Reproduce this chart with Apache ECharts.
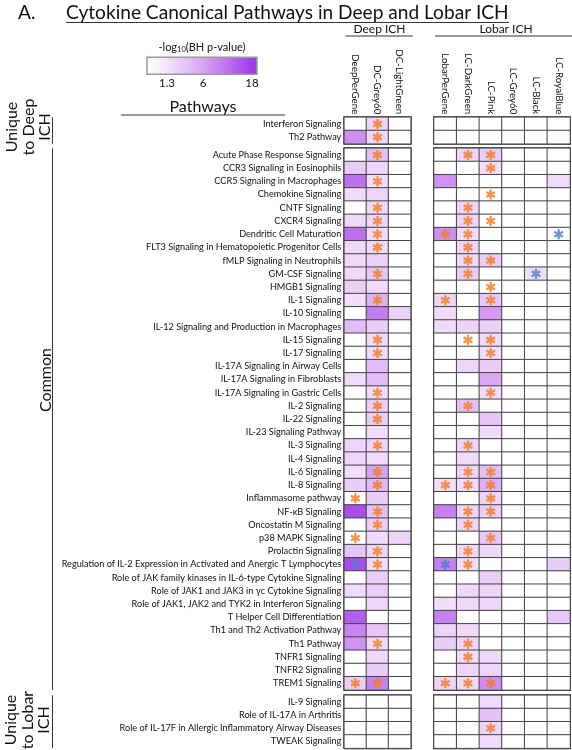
<!DOCTYPE html>
<html><head><meta charset="utf-8">
<script src="https://cdn.jsdelivr.net/npm/echarts@6/dist/echarts.min.js"></script>
<style>html,body{margin:0;padding:0;background:#fff}#c{width:572px;height:750px}</style>
</head><body><div id="c"></div>
<script>
// ---------------- DATA ----------------
const deepCols = ['DeepPerGene', 'DC-Grey60', 'DC-LightGreen'];
const lobarCols = ['LobarPerGene', 'LC-DarkGreen', 'LC-Pink', 'LC-Grey60', 'LC-Black', 'LC-RoyalBlue'];
const legendTicks = ['1.3', '6', '18'];

const uniqueDeepRows = ['Interferon Signaling', 'Th2 Pathway'];
const uniqueDeepDeepVals = [[0, 2.5, 0], [8.5, 2.2, 0]];
const uniqueDeepDeepStars = ['.o.', '.o.'];
const uniqueDeepLobarVals = [[0, 0, 0, 0, 0, 0], [0, 0, 0, 0, 0, 0]];
const uniqueDeepLobarStars = ['......', '......'];

const commonRows = [
  'Acute Phase Response Signaling', 'CCR3 Signaling in Eosinophils', 'CCR5 Signaling in Macrophages',
  'Chemokine Signaling', 'CNTF Signaling', 'CXCR4 Signaling', 'Dendritic Cell Maturation',
  'FLT3 Signaling in Hematopoietic Progenitor Cells', 'fMLP Signaling in Neutrophils', 'GM-CSF Signaling',
  'HMGB1 Signaling', 'IL-1 Signaling', 'IL-10 Signaling', 'IL-12 Signaling and Production in Macrophages',
  'IL-15 Signaling', 'IL-17 Signaling', 'IL-17A Signaling in Airway Cells', 'IL-17A Signaling in Fibroblasts',
  'IL-17A Signaling in Gastric Cells', 'IL-2 Signaling', 'IL-22 Signaling', 'IL-23 Signaling Pathway',
  'IL-3 Signaling', 'IL-4 Signaling', 'IL-6 Signaling', 'IL-8 Signaling', 'Inflammasome pathway',
  'NF-κB Signaling', 'Oncostatin M Signaling', 'p38 MAPK Signaling', 'Prolactin Signaling',
  'Regulation of IL-2 Expression in Activated and Anergic T Lymphocytes',
  'Role of JAK family kinases in IL-6-type Cytokine Signaling',
  'Role of JAK1 and JAK3 in γc Cytokine Signaling',
  'Role of JAK1, JAK2 and TYK2 in Interferon Signaling',
  'T Helper Cell Differentiation', 'Th1 and Th2 Activation Pathway', 'Th1 Pathway',
  'TNFR1 Signaling', 'TNFR2 Signaling', 'TREM1 Signaling'
];
const commonDeepVals = [
  [0, 4, 0], [3.2, 2.5, 0], [12, 2, 0], [2, 2.5, 0], [0, 2.2, 0], [2.2, 2.5, 0], [12, 2, 0],
  [2.2, 2.2, 0], [2.2, 2.8, 0], [2.2, 3.5, 0], [3, 2, 0], [1.8, 5, 0], [0, 10.5, 2.8], [4.2, 3, 0],
  [0, 2, 0], [0, 2, 0], [0, 4.2, 0], [2, 4.2, 0], [0, 2, 0], [0, 3, 0], [0, 3, 0], [0, 2, 0],
  [2.5, 2.5, 0], [2.5, 2, 0], [1.8, 6, 0], [3, 4.5, 0], [0, 3, 0], [16, 4, 0], [0, 3, 0],
  [0, 2, 2.5], [3.7, 2.5, 0], [16, 2, 0], [0, 3, 0], [2, 3, 0], [0, 2.5, 0], [14, 0, 0],
  [9.5, 3.5, 0], [8, 2.2, 0], [0, 2.2, 0], [0, 3, 0], [3, 10, 0]
];
const commonDeepStars = [
  '.o.', '...', '.o.', '...', '.o.', '.o.', '.o.', '.o.', '...', '.o.', '...', '.o.', '...', '...',
  '.o.', '.o.', '...', '...', '.o.', '.o.', '.o.', '...', '.o.', '...', '.o.', '.o.', 'o..', '.o.',
  '.o.', 'o..', '.o.', 'bo.', '...', '...', '...', '...', '...', '.o.', '...', '...', 'oo.'
];
const commonLobarVals = [
  [0, 2.5, 3, 0, 0, 0], [0, 0, 1.8, 0, 0, 0], [8, 0, 0, 0, 0, 2], [0, 0, 0, 0, 0, 0],
  [0, 2.5, 0, 0, 0, 0], [0, 2.5, 0, 0, 0, 0], [8.5, 2, 0, 0, 0, 0], [0, 2.5, 0, 0, 0, 0],
  [0, 2.2, 3, 0, 0, 0], [0, 3, 0, 0, 1.8, 0], [0, 0, 0, 0, 0, 0], [2.5, 0, 3.5, 0, 0, 0],
  [2, 0, 7, 0, 0, 0], [2, 2.5, 2.8, 0, 0, 0], [0, 0, 2, 0, 0, 0], [0, 0, 1.8, 0, 0, 0],
  [0, 2.5, 3, 0, 0, 0], [0, 0, 5.5, 0, 0, 0], [0, 0, 2, 0, 0, 0], [0, 4, 0, 0, 0, 0],
  [0, 0, 3.5, 0, 0, 0], [0, 0, 2, 0, 0, 0], [0, 2.5, 0, 0, 0, 0], [0, 2, 0, 0, 0, 0],
  [0, 2.5, 4, 0, 0, 0], [1.8, 2, 5, 0, 0, 0], [0, 0, 2.5, 0, 0, 0], [10, 2.5, 3, 0, 0, 0],
  [0, 2.5, 0, 0, 0, 0], [0, 0, 3.5, 0, 0, 0], [0, 2.2, 2.2, 0, 0, 0], [10, 2, 0, 0, 0, 3],
  [0, 0, 3, 0, 0, 0], [0, 2.2, 2.5, 0, 0, 0], [1.8, 2.2, 2.5, 0, 0, 0], [10, 0, 0, 0, 0, 3.5],
  [2.5, 2.2, 0, 0, 0, 0], [3, 2.5, 0, 0, 0, 0], [0, 2, 2.2, 0, 0, 0], [0, 2.5, 2.5, 0, 0, 0],
  [2.5, 2.2, 8.5, 0, 0, 0]
];
const commonLobarStars = [
  '.oo...', '..o...', '......', '..o...', '.o....', '.oo...', 'oo...b', '.o....', '.oo...',
  '.o..b.', '..o...', 'o.o...', '......', '......', '.oo...', '..o...', '......', '......',
  '..o...', '.o....', '......', '......', '.o....', '......', '.oo...', 'ooo...', '..o...',
  '.oo...', '.o....', '..o...', '.o....', 'bo....', '......', '......', '......', '......',
  '......', '.o....', '.o....', '......', 'ooo...'
];

const uniqueLobarRows = ['IL-9 Signaling', 'Role of IL-17A in Arthritis',
  'Role of IL-17F in Allergic Inflammatory Airway Diseases', 'TWEAK Signaling'];
const uniqueLobarDeepVals = [[0, 0, 0], [0, 0, 0], [0, 0, 0], [0, 0, 0]];
const uniqueLobarDeepStars = ['...', '...', '...', '...'];
const uniqueLobarLobarVals = [[0, 0, 2, 0, 0, 0], [0, 0, 4, 0, 0, 0], [0, 0, 2.5, 0, 0, 0], [0, 0, 2, 0, 0, 0]];
const uniqueLobarLobarStars = ['......', '......', '..o...', '......'];

// ---------------- STYLE / LAYOUT ----------------
const FONT = 'Lato, "Open Sans", sans-serif';
const TXT = '#111111';
const ORANGE = '#f47a1f', BLUE = '#4a7ccc';
const ROW_H = 13.21;
const DEEP_L = 344.3, DEEP_W = 66.4, LOB_L = 434, LOB_W = 136;
const sectionTops = [117.3, 148.3, 695.3];

const meas = document.createElement('canvas').getContext('2d');
function fit(text, target, weight) {
  meas.font = (weight || 'normal') + ' 20px ' + FONT;
  return 20 * target / meas.measureText(text).width;
}
const rowFont = Math.min(10.5, fit('Regulation of IL-2 Expression in Activated and Anergic T Lymphocytes', 280));
const colFont = Math.min(12, fit('DC-LightGreen', 65));
const titleFont = fit('Cytokine Canonical Pathways in Deep and Lobar ICH', 443);

// colour scale (non-linear legend: 1.3 / 6 / 18); below 1.3 = white (not significant)
const anchors = [[1.3, [244, 230, 251]], [6, [215, 164, 243]], [18, [162, 59, 232]]];
function colAt(v) {
  if (v < 1.3) return 'rgb(255,255,255)';
  let a = anchors[0], b = anchors[1];
  if (v > anchors[1][0]) { a = anchors[1]; b = anchors[2]; }
  const t = Math.max(0, Math.min(1, (v - a[0]) / (b[0] - a[0])));
  const c = a[1].map((x, i) => Math.round(x + (b[1][i] - x) * t));
  return 'rgb(' + c.join(',') + ')';
}
const stops = [];
for (let i = 0; i <= 180; i++) stops.push(colAt(i / 10));

const STAR = 'path://M-0.24,-1L0.24,-1L0.24,1L-0.24,1ZM0.746,-0.708L0.986,-0.292L-0.746,0.708L-0.986,0.292ZM-0.986,-0.292L-0.746,-0.708L0.986,0.292L0.746,0.708Z';

const sections = [
  { rows: uniqueDeepRows, dv: uniqueDeepDeepVals, ds: uniqueDeepDeepStars, lv: uniqueDeepLobarVals, ls: uniqueDeepLobarStars },
  { rows: commonRows, dv: commonDeepVals, ds: commonDeepStars, lv: commonLobarVals, ls: commonLobarStars },
  { rows: uniqueLobarRows, dv: uniqueLobarDeepVals, ds: uniqueLobarDeepStars, lv: uniqueLobarLobarVals, ls: uniqueLobarLobarStars }
];

const grid = [], xAxis = [], yAxis = [], series = [], heatIdx = [];
sections.forEach((s, si) => {
  [['deep', deepCols, s.dv, s.ds, DEEP_L, DEEP_W], ['lobar', lobarCols, s.lv, s.ls, LOB_L, LOB_W]].forEach((b, bi) => {
    const gi = grid.length;
    grid.push({ left: b[4], width: b[5], top: sectionTops[si], height: s.rows.length * ROW_H,
      show: true, borderColor: '#2e2e2e', borderWidth: 2, backgroundColor: 'transparent', outerBoundsMode: 'none' });
    xAxis.push({ type: 'category', gridIndex: gi, data: b[1], position: 'top', show: si === 0,
      axisLine: { show: false }, axisTick: { show: false }, splitLine: { show: false },
      axisLabel: { rotate: 90, margin: 3, interval: 0, fontSize: colFont, color: TXT, fontFamily: FONT } });
    yAxis.push({ type: 'category', gridIndex: gi, data: s.rows, inverse: true,
      axisLine: { show: false }, axisTick: { show: false }, splitLine: { show: false },
      axisLabel: { show: bi === 0, interval: 0, margin: 3, fontSize: rowFont, color: TXT, fontFamily: FONT } });
    const hd = [], sd = [];
    b[2].forEach((row, r) => row.forEach((v, c) => {
      hd.push([c, r, v]);
      const st = b[3][r][c];
      if (st !== '.') sd.push({ value: [c, r], itemStyle: { color: st === 'b' ? BLUE : ORANGE } });
    }));
    heatIdx.push(series.length);
    series.push({ type: 'heatmap', xAxisIndex: gi, yAxisIndex: gi, data: hd, z: 2, silent: true,
      itemStyle: { borderColor: '#454545', borderWidth: 1 }, emphasis: { disabled: true } });
    series.push({ type: 'scatter', xAxisIndex: gi, yAxisIndex: gi, data: sd, z: 4, silent: true,
      symbol: STAR, symbolSize: [9.9, 10], emphasis: { disabled: true } });
  });
});

const line = (x1, y1, x2, y2, w) => ({ type: 'line', silent: true, z: 10,
  shape: { x1, y1, x2, y2 }, style: { stroke: '#333', lineWidth: w || 1 } });
const text = (x, y, t, size, align, extra) => ({ type: 'text', x, y, silent: true, z: 10,
  style: Object.assign({ text: t, fill: TXT, font: size + 'px ' + FONT, align: align || 'center', verticalAlign: 'middle' }, extra || {}) });

const graphic = [
  text(18, 13, 'A.', titleFont, 'left'),
  text(66, 13, 'Cytokine Canonical Pathways in Deep and Lobar ICH', titleFont, 'left'),
  line(66, 22.5, 509, 22.5, 1.2),
  text(DEEP_L + DEEP_W / 2 + 2, 29, 'Deep ICH', 12),
  line(DEEP_L + 1, 36, DEEP_L + DEEP_W + 2, 36, 1),
  text(LOB_L + LOB_W / 2 + 4, 29, 'Lobar ICH', 12),
  line(LOB_L + 1, 36, 572, 36, 1),
  { type: 'text', x: 202, y: 47, silent: true, z: 10,
    style: { text: '-log{s|10}(BH p-value)', fill: TXT, font: '11px ' + FONT, align: 'center', verticalAlign: 'middle',
      rich: { s: { fontSize: 7.5, fontFamily: FONT, fill: TXT, padding: [6, 0, 0, 0] } } } },
  { type: 'rect', silent: true, z: 10, shape: { x: 147, y: 57.3, width: 110, height: 17 },
    style: { stroke: '#9a9a9a', lineWidth: 1.5,
      fill: new echarts.graphic.LinearGradient(0, 0, 1, 0, [
        { offset: 0, color: '#ffffff' }, { offset: 0.17, color: colAt(1.3) },
        { offset: 0.51, color: colAt(6) }, { offset: 0.95, color: colAt(18) }, { offset: 1, color: colAt(18) }]) } },
  text(167, 83.5, legendTicks[0], 11.5),
  text(203, 83.5, legendTicks[1], 11.5),
  text(252, 83.5, legendTicks[2], 11.5),
  text(203, 107, 'Pathways', 16),
  line(121, 115, 285, 115, 1),
  line(52.5, sectionTops[0], 52.5, sectionTops[0] + 2 * ROW_H, 1),
  line(52.5, sectionTops[1], 52.5, sectionTops[1] + 41 * ROW_H, 1),
  line(52.5, sectionTops[2], 52.5, sectionTops[2] + 4 * ROW_H, 1),
  { type: 'text', x: 28.5, y: 127, rotation: Math.PI / 2, silent: true, z: 10,
    style: { text: 'Unique\nto Deep\nICH', fill: TXT, font: '16px ' + FONT, lineHeight: 16.5, align: 'center', verticalAlign: 'middle' } },
  { type: 'text', x: 46, y: 380, rotation: Math.PI / 2, silent: true, z: 10,
    style: { text: 'Common', fill: TXT, font: '16px ' + FONT, align: 'center', verticalAlign: 'middle' } },
  { type: 'text', x: 27.5, y: 720, rotation: Math.PI / 2, silent: true, z: 10,
    style: { text: 'Unique\nto Lobar\nICH', fill: TXT, font: '16px ' + FONT, lineHeight: 16.5, align: 'center', verticalAlign: 'middle' } }
];

const chart = echarts.init(document.getElementById('c'), null, { renderer: 'canvas' });
chart.setOption({
  animation: false,
  backgroundColor: '#ffffff',
  grid, xAxis, yAxis, series, graphic,
  visualMap: { show: false, type: 'continuous', min: 0, max: 18, seriesIndex: heatIdx,
    inRange: { color: stops } }
});
</script>
</body></html>
